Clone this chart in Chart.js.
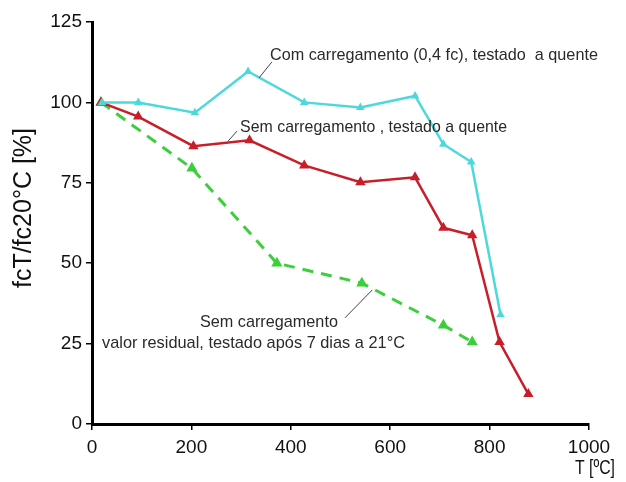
<!DOCTYPE html>
<html>
<head>
<meta charset="utf-8">
<script src="https://cdn.jsdelivr.net/npm/chart.js@4.4.1/dist/chart.umd.min.js"></script>
<style>
  html, body { margin: 0; padding: 0; background: #fff; }
  #wrap { width: 626px; height: 482px; }
</style>
</head>
<body>
<div id="wrap"><canvas id="c"></canvas></div>
<script>
// T [ºC] and fcT/fc20ºC [%]
const comCargaT = [20, 93, 207, 314, 427, 540, 650, 707, 763, 822];
const comCargaV = [100, 100, 96.8, 109.6, 100, 98.4, 102, 87, 81.5, 34];
const semCargaT = [18, 93, 204, 317, 427, 540, 650, 707, 765, 820, 878];
const semCargaV = [100, 95.6, 86.4, 88.2, 80.4, 75.2, 76.7, 61, 58.7, 25.5, 9.3];
const residualT = [18, 201, 372, 543, 707, 765];
const residualV = [100, 79.5, 50, 43.8, 30.7, 25.5];
const xTicks = [0, 200, 400, 600, 800, 1000];
const yTicks = [0, 25, 50, 75, 100, 125];

const FONT = "'Liberation Sans', Arial, sans-serif";

function pts(xs, ys) { return xs.map((x, i) => ({ x: x, y: ys[i] })); }

// labels placed in data units, width squeezes the text like the narrow original
const notes = [
  { text: "Com carregamento (0,4 fc), testado  a quente", x: 358, y: 114.7, align: "left", w: 328 },
  { text: "Sem carregamento , testado a quente", x: 298, y: 92.4, align: "left", w: 267 },
  { text: "Sem carregamento", x: 356, y: 31.7, align: "center", w: 138 },
  { text: "valor residual, testado após 7 dias a 21°C", x: 325, y: 25.2, align: "center", w: 303 },
];
const leaders = [
  [362, 112.6, 336, 107.6],
  [292, 91.1, 274, 88],
  [509, 33, 564, 41.7],
];

function fitText(ctx, text, x, y, align, w, size) {
  ctx.save();
  ctx.font = size + "px " + FONT;
  const m = ctx.measureText(text).width;
  const k = w ? w / m : 1;
  let left = x;
  if (align === "center") left = x - (m * k) / 2;
  else if (align === "right") left = x - m * k;
  ctx.translate(left, y);
  ctx.scale(k, 1);
  ctx.textAlign = "left";
  ctx.textBaseline = "middle";
  ctx.fillText(text, 0, 0);
  ctx.restore();
}

const labelsPlugin = {
  id: "labels",
  afterDatasetsDraw(chart) {
    const ctx = chart.ctx, xs = chart.scales.x, ys = chart.scales.y;
    ctx.save();
    ctx.strokeStyle = "#444";
    ctx.lineWidth = 1;
    leaders.forEach(l => {
      ctx.beginPath();
      ctx.moveTo(xs.getPixelForValue(l[0]), ys.getPixelForValue(l[1]));
      ctx.lineTo(xs.getPixelForValue(l[2]), ys.getPixelForValue(l[3]));
      ctx.stroke();
    });
    ctx.fillStyle = "#2a2a2a";
    notes.forEach(n => {
      fitText(ctx, n.text, xs.getPixelForValue(n.x), ys.getPixelForValue(n.y), n.align, n.w, 17);
    });
    // axis titles
    ctx.fillStyle = "#111";
    fitText(ctx, "T [ºC]", xs.right + 6, chart.height - 14, "center", 40, 20);
    ctx.save();
    ctx.translate(24, (ys.top + ys.bottom) / 2 - 15);
    ctx.rotate(-Math.PI / 2);
    fitText(ctx, "fcT/fc20°C [%]", 0, 0, "center", 160, 25);
    ctx.restore();
    ctx.restore();
  }
};

const axisStyle = {
  grid: { display: true, drawOnChartArea: false, drawTicks: true, tickLength: 6, color: "#000", lineWidth: 1.5 },
  border: { display: true, color: "#000", width: 3 },
};

new Chart(document.getElementById("c"), {
  type: "line",
  data: {
    datasets: [
      {
        label: "Com carregamento (0,4 fc), testado a quente",
        data: pts(comCargaT, comCargaV),
        borderColor: "#4dd9dc",
        backgroundColor: "#4dd9dc",
        borderWidth: 2.5,
        pointStyle: "triangle",
        pointRadius: 2.5,
        tension: 0,
      },
      {
        label: "Sem carregamento, testado a quente",
        data: pts(semCargaT, semCargaV),
        borderColor: "#c81e2a",
        backgroundColor: "#c81e2a",
        borderWidth: 2.5,
        pointStyle: "triangle",
        pointRadius: 3.5,
        tension: 0,
      },
      {
        label: "Sem carregamento, valor residual",
        data: pts(residualT, residualV),
        borderColor: "#3ccf3c",
        backgroundColor: "#2fc02f",
        borderWidth: 3,
        borderDash: [11, 8],
        pointStyle: "triangle",
        pointRadius: 3.5,
        tension: 0,
      },
    ],
  },
  options: {
    responsive: true,
    maintainAspectRatio: false,
    animation: false,
    layout: { padding: { left: 0, top: 22, right: 37, bottom: 0 } },
    plugins: { legend: { display: false }, tooltip: { enabled: false } },
    scales: {
      x: {
        type: "linear",
        min: 0,
        max: 1000,
        afterBuildTicks: s => { s.ticks = xTicks.map(v => ({ value: v })); },
        afterFit: s => { s.height = 58; },
        ticks: { color: "#111", padding: 6, font: { family: FONT, size: 19 }, callback: v => String(v) },
        ...axisStyle,
      },
      y: {
        type: "linear",
        min: 0,
        max: 125,
        afterBuildTicks: s => { s.ticks = yTicks.map(v => ({ value: v })); },
        afterFit: s => { s.width = 92; },
        ticks: { color: "#111", padding: 4, font: { family: FONT, size: 19 }, callback: v => String(v) },
        ...axisStyle,
      },
    },
  },
  plugins: [labelsPlugin],
});
</script>
</body>
</html>
